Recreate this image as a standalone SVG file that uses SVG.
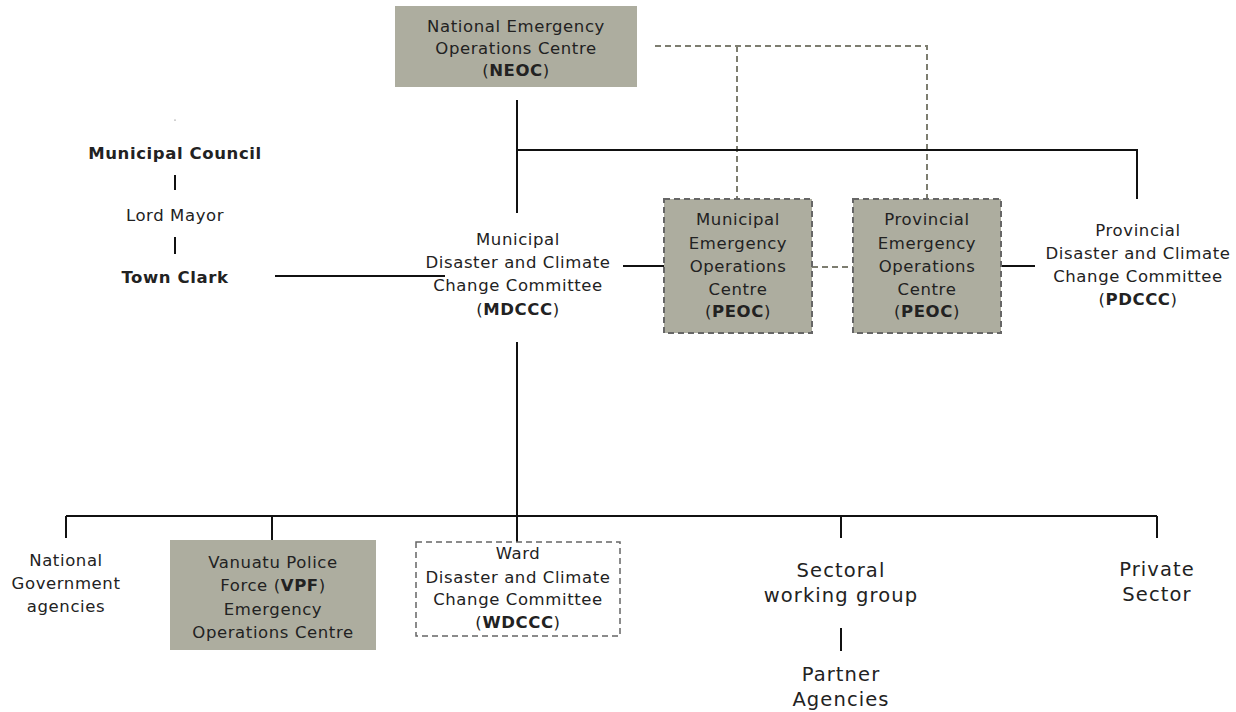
<svg xmlns="http://www.w3.org/2000/svg" width="1236" height="712" viewBox="0 0 1236 712">
<style>
text{font-family:"DejaVu Sans","Liberation Sans",sans-serif;fill:#222;text-anchor:middle;font-size:16.5px;letter-spacing:0.6px}
.b{font-weight:bold}
.big{font-size:19.5px;letter-spacing:1.1px}
.box{fill:#adad9f}
.dbox{fill:#adad9f;stroke:#666;stroke-width:2;stroke-dasharray:6 4}
.wbox{fill:none;stroke:#666;stroke-width:1.5;stroke-dasharray:6 4}
.s{stroke:#111;stroke-width:2;fill:none}
.d{stroke:#7d7d70;stroke-width:2;fill:none;stroke-dasharray:6 4}
</style>
<g id="connectors">
<path class="d" d="M655 46H927V199M737 46V199M812 267H853"/>
<path class="s" d="M517 100V213M517 150H1137V199M623 266H664M1001 266H1035M275 276H445M175 175V190M175 237V254"/>
<path class="s" d="M517 342V516M66 516H1157M66 516V538M272 516V540M517 516V542M841 516V538M1157 516V538M841 628V651"/>
<circle cx="175" cy="120" r="0.6" fill="#555"/>
</g>
<g id="neoc"><rect class="box" x="395" y="6" width="242" height="81"/>
<text x="516" y="32">National Emergency</text><text x="516" y="54">Operations Centre</text><text x="516" y="76">(<tspan class="b">NEOC</tspan>)</text></g>
<g id="municipal-council"><text class="b" x="175" y="159">Municipal Council</text></g>
<g id="lord-mayor"><text x="175" y="221">Lord Mayor</text></g>
<g id="town-clark"><text class="b" x="175" y="283">Town Clark</text></g>
<g id="mdccc"><text x="518" y="245">Municipal</text><text x="518" y="268">Disaster and Climate</text><text x="518" y="291">Change Committee</text><text x="518" y="315">(<tspan class="b">MDCCC</tspan>)</text></g>
<g id="meoc"><rect class="dbox" x="664" y="199" width="148" height="134"/>
<text x="738" y="225">Municipal</text><text x="738" y="249">Emergency</text><text x="738" y="272">Operations</text><text x="738" y="295">Centre</text><text x="738" y="317">(<tspan class="b">PEOC</tspan>)</text></g>
<g id="peoc"><rect class="dbox" x="853" y="199" width="148" height="134"/>
<text x="927" y="225">Provincial</text><text x="927" y="249">Emergency</text><text x="927" y="272">Operations</text><text x="927" y="295">Centre</text><text x="927" y="317">(<tspan class="b">PEOC</tspan>)</text></g>
<g id="pdccc"><text x="1138" y="236">Provincial</text><text x="1138" y="259">Disaster and Climate</text><text x="1138" y="282">Change Committee</text><text x="1138" y="305">(<tspan class="b">PDCCC</tspan>)</text></g>
<g id="nga"><text x="66" y="566">National</text><text x="66" y="589">Government</text><text x="66" y="612">agencies</text></g>
<g id="vpf"><rect class="box" x="170" y="540" width="206" height="110"/>
<text x="273" y="568">Vanuatu Police</text><text x="273" y="591">Force (<tspan class="b">VPF</tspan>)</text><text x="273" y="615">Emergency</text><text x="273" y="638">Operations Centre</text></g>
<g id="wdccc"><rect class="wbox" x="416" y="542" width="204" height="94"/>
<text x="518" y="559">Ward</text><text x="518" y="583">Disaster and Climate</text><text x="518" y="605">Change Committee</text><text x="518" y="628">(<tspan class="b">WDCCC</tspan>)</text></g>
<g id="sectoral"><text class="big" x="841" y="577">Sectoral</text><text class="big" x="841" y="602">working group</text></g>
<g id="partner"><text class="big" x="841" y="681">Partner</text><text class="big" x="841" y="706">Agencies</text></g>
<g id="private"><text class="big" x="1157" y="576">Private</text><text class="big" x="1157" y="601">Sector</text></g>
</svg>
